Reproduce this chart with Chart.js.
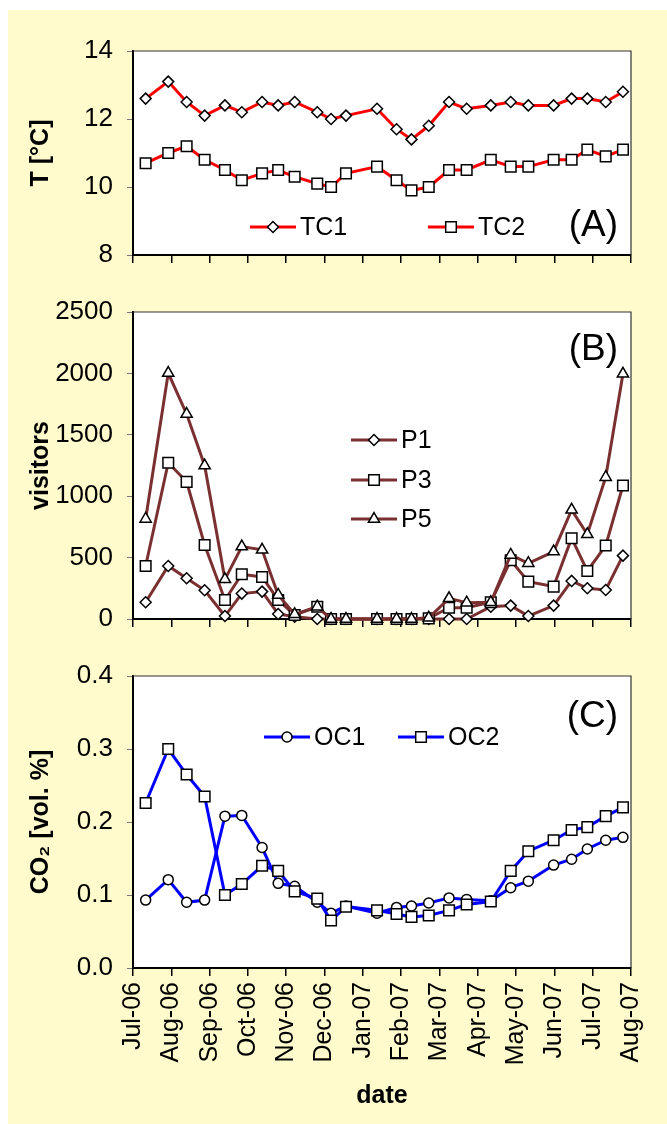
<!DOCTYPE html>
<html>
<head>
<meta charset="utf-8">
<script src="https://cdn.jsdelivr.net/npm/chart.js@4.4.1/dist/chart.umd.min.js"></script>
<style>
  body { margin: 0; background: #fff; }
  #page { position: relative; width: 667px; height: 1124px; background: #fff; overflow: hidden; }
  #paper { position: absolute; left: 8px; top: 10px; right: 0; bottom: 0; background: #fffbcc; }
  canvas { position: absolute; left: 0; top: 0; }
</style>
</head>
<body>
<div id="page">
  <div id="paper"></div>
  <canvas id="panelA" width="667" height="1124"></canvas>
  <canvas id="panelB" width="667" height="1124"></canvas>
  <canvas id="panelC" width="667" height="1124"></canvas>
</div>
<script>
// month tick labels, one per month from Jul-06 to Aug-07
const monthLabels = ['Jul-06','Aug-06','Sep-06','Oct-06','Nov-06','Dec-06','Jan-07','Feb-07','Mar-07','Apr-07','May-07','Jun-07','Jul-07','Aug-07'];
// sampling dates, in months after 1 Jul 2006
const sampleMonths = [0.33,0.92,1.40,1.87,2.40,2.84,3.37,3.79,4.22,4.81,5.17,5.56,6.37,6.88,7.27,7.72,8.25,8.71,9.34,9.86,10.32,10.98,11.45,11.86,12.34,12.79];

// (A) temperature
const tc1 = [12.6,13.1,12.5,12.1,12.4,12.2,12.5,12.4,12.5,12.2,12.0,12.1,12.3,11.7,11.4,11.8,12.5,12.3,12.4,12.5,12.4,12.4,12.6,12.6,12.5,12.8];
const tc2 = [10.7,11.0,11.2,10.8,10.5,10.2,10.4,10.5,10.3,10.1,10.0,10.4,10.6,10.2,9.9,10.0,10.5,10.5,10.8,10.6,10.6,10.8,10.8,11.1,10.9,11.1];

// (B) visitors
const p1 = [136,432,332,234,24,207,223,41,19,0,0,0,0,0,0,0,0,0,100,109,24,109,310,250,236,516];
const p3 = [432,1272,1117,603,155,364,342,155,33,100,0,0,0,0,0,5,92,92,136,478,304,264,658,391,598,1087];
const p5 = [815,2003,1669,1250,323,590,563,196,38,100,0,0,0,0,0,10,168,133,136,522,454,549,889,690,1155,1997];

// (C) CO2
const oc1 = [0.093,0.121,0.090,0.093,0.208,0.209,0.165,0.116,0.112,0.090,0.075,0.085,0.075,0.083,0.085,0.089,0.096,0.094,0.092,0.110,0.119,0.141,0.149,0.163,0.175,0.179];
const oc2 = [0.226,0.300,0.265,0.235,0.100,0.115,0.140,0.133,0.105,0.095,0.065,0.084,0.079,0.074,0.070,0.072,0.079,0.087,0.091,0.133,0.160,0.175,0.189,0.193,0.208,0.220];

const FONT = "'Liberation Sans', Arial, sans-serif";

function series(label, values, color, style, radius, order) {
  return {
    label: label,
    data: values.map((v, i) => ({ x: sampleMonths[i], y: v })),
    borderColor: color,
    borderWidth: 3,
    tension: 0,
    pointStyle: style,
    pointRadius: radius,
    pointBackgroundColor: '#fff',
    pointBorderColor: '#000',
    pointBorderWidth: 1.5,
    clip: false,
    order: order
  };
}

// white plot area, thin top/right frame, legend and panel tag
const deco = {
  id: 'panelDeco',
  beforeDraw(chart) {
    const a = chart.chartArea, ctx = chart.ctx;
    ctx.save();
    ctx.fillStyle = '#fff';
    ctx.fillRect(a.left, a.top, a.right - a.left, a.bottom - a.top);
    ctx.restore();
  },
  beforeDatasetsDraw(chart) {
    const a = chart.chartArea, ctx = chart.ctx;
    ctx.save();
    ctx.strokeStyle = '#333';
    ctx.lineWidth = 1.2;
    ctx.beginPath();
    ctx.moveTo(a.left, a.top);
    ctx.lineTo(a.right, a.top);
    ctx.lineTo(a.right, a.bottom);
    ctx.stroke();
    ctx.restore();
  },
  afterDraw(chart, args, opts) {
    const ctx = chart.ctx;
    ctx.save();
    (opts.items || []).forEach(it => {
      const ds = chart.data.datasets[it.index];
      ctx.strokeStyle = ds.borderColor;
      ctx.lineWidth = 3;
      ctx.beginPath();
      ctx.moveTo(it.x, it.y);
      ctx.lineTo(it.x + 46, it.y);
      ctx.stroke();
      ctx.fillStyle = '#fff';
      ctx.strokeStyle = '#000';
      ctx.lineWidth = 1.5;
      Chart.helpers.drawPoint(ctx, { pointStyle: ds.pointStyle, radius: ds.pointRadius, borderWidth: 1.5, rotation: 0 }, it.x + 23, it.y);
      ctx.fillStyle = '#000';
      ctx.font = '25px ' + FONT;
      ctx.textAlign = 'left';
      ctx.textBaseline = 'middle';
      ctx.fillText(ds.label, it.x + 50, it.y + 1);
    });
    if (opts.tag) {
      ctx.fillStyle = '#000';
      ctx.font = '37px ' + FONT;
      ctx.textAlign = 'right';
      ctx.textBaseline = 'middle';
      ctx.fillText(opts.tag.text, opts.tag.x, opts.tag.y);
    }
    ctx.restore();
  }
};

function makeOptions(p) {
  return {
    responsive: false,
    animation: false,
    events: [],
    layout: { padding: { top: p.top, bottom: p.bottom, left: 0, right: 36 } },
    plugins: {
      legend: { display: false },
      tooltip: { enabled: false },
      panelDeco: p.deco
    },
    scales: {
      x: {
        type: 'linear',
        min: 0,
        max: monthLabels.length - 1,
        afterBuildTicks: s => { s.ticks = monthLabels.map((_, i) => ({ value: i })); },
        afterFit: s => { s.height = p.xHeight; },
        grid: { drawOnChartArea: false, drawTicks: true, tickLength: 8, color: '#000', lineWidth: 1.5 },
        border: { display: true, color: '#000', width: 2 },
        ticks: {
          display: p.showMonths,
          autoSkip: false,
          minRotation: 90,
          maxRotation: 90,
          padding: 6,
          color: '#000',
          font: { family: FONT, size: 25 },
          callback: v => monthLabels[v]
        },
        title: {
          display: p.showMonths,
          text: 'date',
          color: '#000',
          font: { family: FONT, size: 25, weight: 'bold' },
          padding: { top: 0, bottom: 13 }
        }
      },
      y: {
        min: p.yMin,
        max: p.yMax,
        afterFit: s => { s.width = 133; },
        grid: { drawOnChartArea: false, drawTicks: true, tickLength: 6, color: '#777', lineWidth: 1 },
        border: { display: true, color: '#000', width: 2 },
        ticks: {
          stepSize: p.yStep,
          padding: 14,
          color: '#000',
          font: { family: FONT, size: 26 },
          callback: p.yFormat || (v => v)
        },
        title: {
          display: true,
          text: p.yTitle,
          color: '#000',
          font: { family: FONT, size: 25, weight: 'bold' },
          padding: { top: 26, bottom: 0 }
        }
      }
    }
  };
}

new Chart(document.getElementById('panelA'), {
  type: 'line',
  data: {
    datasets: [
      series('TC1', tc1, '#ff0000', 'rectRot', 5.5, 0),
      series('TC2', tc2, '#ff0000', 'rect', 7.5, 1)
    ]
  },
  options: makeOptions({
    top: 51, bottom: 859, xHeight: 10, showMonths: false,
    yMin: 8, yMax: 14, yStep: 2, yTitle: 'T [°C]',
    deco: {
      items: [{ index: 0, x: 250, y: 227 }, { index: 1, x: 428, y: 227 }],
      tag: { text: '(A)', x: 618, y: 226 }
    }
  }),
  plugins: [deco]
});

new Chart(document.getElementById('panelB'), {
  type: 'line',
  data: {
    datasets: [
      series('P1', p1, '#7a3030', 'rectRot', 5.5, 2),
      series('P3', p3, '#7a3030', 'rect', 7.5, 1),
      series('P5', p5, '#7a3030', 'triangle', 6.5, 0)
    ]
  },
  options: makeOptions({
    top: 312, bottom: 495, xHeight: 10, showMonths: false,
    yMin: 0, yMax: 2500, yStep: 500, yTitle: 'visitors',
    deco: {
      items: [{ index: 0, x: 351, y: 440 }, { index: 1, x: 351, y: 480 }, { index: 2, x: 351, y: 519 }],
      tag: { text: '(B)', x: 618, y: 350 }
    }
  }),
  plugins: [deco]
});

new Chart(document.getElementById('panelC'), {
  type: 'line',
  data: {
    datasets: [
      series('OC1', oc1, '#0000ff', 'circle', 5, 1),
      series('OC2', oc2, '#0000ff', 'rect', 7.5, 0)
    ]
  },
  options: makeOptions({
    top: 676, bottom: 0, xHeight: 156, showMonths: true,
    yMin: 0, yMax: 0.4, yStep: 0.1, yTitle: 'CO₂ [vol. %]',
    yFormat: v => v.toFixed(1),
    deco: {
      items: [{ index: 0, x: 264, y: 737 }, { index: 1, x: 398, y: 737 }],
      tag: { text: '(C)', x: 618, y: 717 }
    }
  }),
  plugins: [deco]
});
</script>
</body>
</html>
